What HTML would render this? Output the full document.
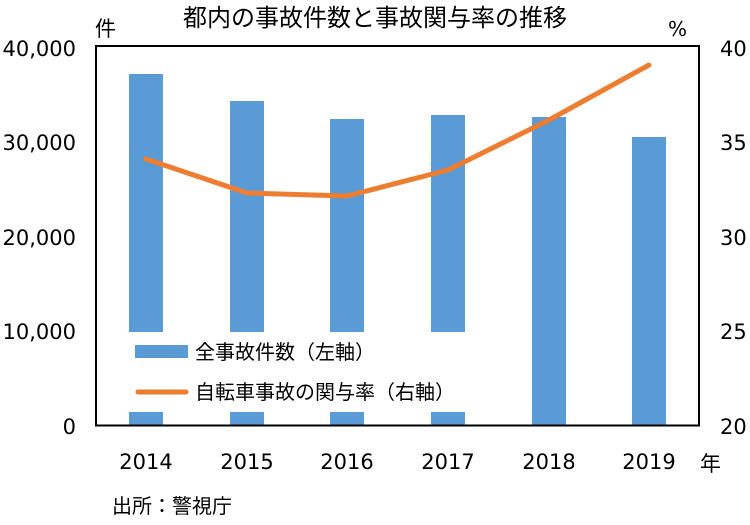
<!DOCTYPE html><html><head><meta charset="utf-8"><style>body{margin:0;background:#fff}</style></head><body>
<svg width="750" height="520" xmlns="http://www.w3.org/2000/svg" font-family="DejaVu Sans, Noto Sans CJK JP, sans-serif">
<rect width="750" height="520" fill="#fff"/>
<text x="375" y="26" font-size="24" text-anchor="middle" fill="#000" font-family="Noto Sans CJK JP, sans-serif">都内の事故件数と事故関与率の推移</text>
<text x="95" y="36" font-size="21" font-family="Noto Sans CJK JP, sans-serif">件</text>
<text x="668" y="36" font-size="20">%</text>
<g fill="#5B9BD5">
<rect x="129" y="74" width="34" height="352"/>
<rect x="230" y="101" width="34" height="325"/>
<rect x="330" y="119" width="34" height="307"/>
<rect x="431" y="115" width="34" height="311"/>
<rect x="532" y="117" width="34" height="309"/>
<rect x="632" y="137" width="34" height="289"/>
</g>
<rect x="110" y="332" width="410" height="80" fill="#fff"/>
<rect x="135" y="345" width="53" height="13" fill="#5B9BD5"/>
<line x1="138" y1="392" x2="186" y2="392" stroke="#ED7D31" stroke-width="5" stroke-linecap="round"/>
<g font-family="Noto Sans CJK JP, sans-serif" font-size="20">
<text x="195" y="359">全事故件数（左軸）</text>
<text x="195" y="399">自転車事故の関与率（右軸）</text>
</g>
<polyline points="146,159 247,193 347,196 448,170 549,120 649,65" fill="none" stroke="#ED7D31" stroke-width="5" stroke-linejoin="round" stroke-linecap="round"/>
<rect x="96" y="46" width="603" height="379.5" fill="none" stroke="#000" stroke-width="2"/>
<g font-size="21" text-anchor="end">
<text x="76" y="56">40,000</text><text x="76" y="150">30,000</text><text x="76" y="245">20,000</text><text x="76" y="339">10,000</text><text x="76" y="434">0</text>
</g>
<g font-size="21">
<text x="720" y="56">40</text><text x="720" y="150">35</text><text x="720" y="245">30</text><text x="720" y="339">25</text><text x="720" y="434">20</text>
</g>
<g font-size="21" text-anchor="middle">
<text x="146" y="469">2014</text><text x="247" y="469">2015</text><text x="347" y="469">2016</text><text x="448" y="469">2017</text><text x="549" y="469">2018</text><text x="649" y="469">2019</text>
</g>
<text x="700" y="471" font-size="21" font-family="Noto Sans CJK JP, sans-serif">年</text>
<text x="112" y="513" font-size="20" font-family="Noto Sans CJK JP, sans-serif">出所：警視庁</text>
</svg></body></html>
